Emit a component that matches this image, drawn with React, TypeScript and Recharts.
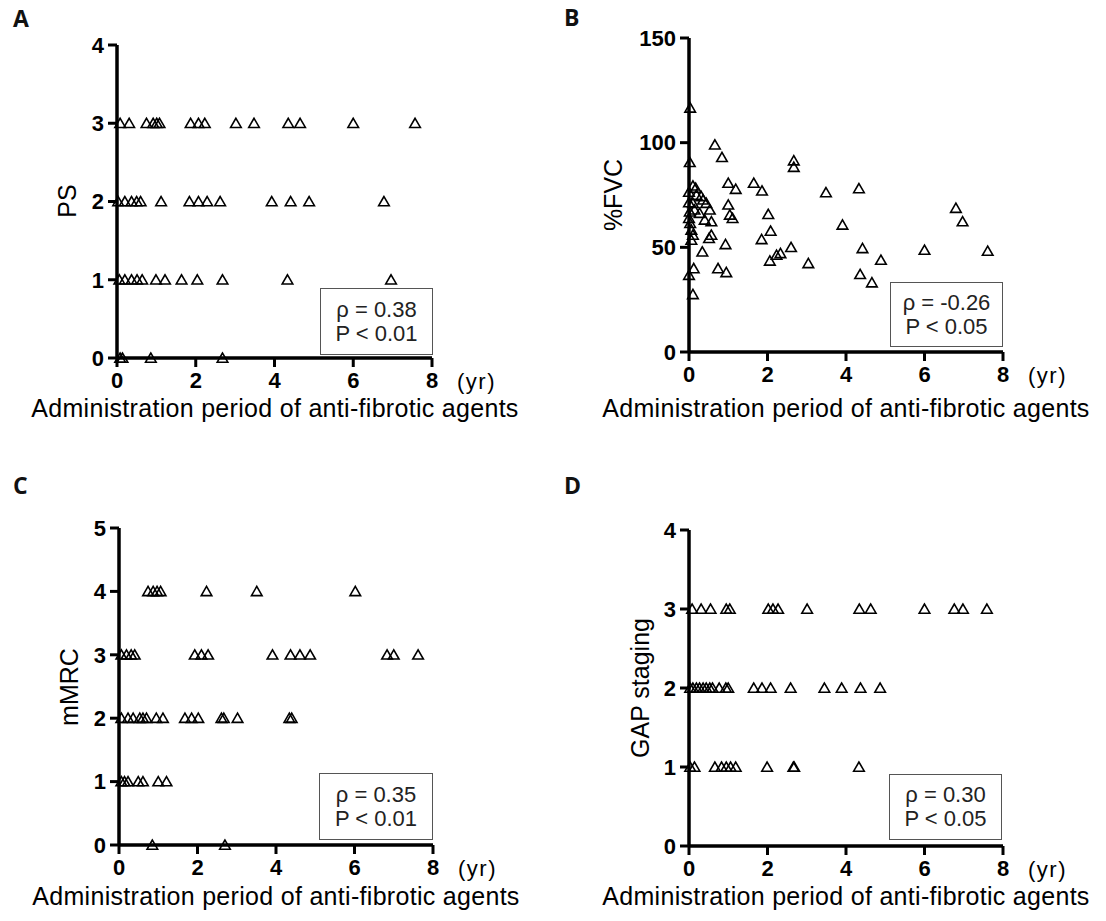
import React from 'react';
import { ScatterChart, Scatter, XAxis, YAxis } from 'recharts';

// ---- Data ----
const xTicks = [0, 2, 4, 6, 8];

// Panel A: PS
const psY3 = [0.08, 0.31, 0.75, 0.92, 1.01, 1.08, 1.87, 2.07, 2.23, 3.02, 3.48, 4.35, 4.65, 6.0, 7.57];
const psY2 = [0.03, 0.2, 0.37, 0.5, 0.6, 1.12, 1.84, 2.07, 2.29, 2.62, 3.93, 4.41, 4.88, 6.78];
const psY1 = [0.06, 0.2, 0.37, 0.51, 0.64, 0.99, 1.22, 1.64, 2.04, 2.68, 4.33, 6.96];
const psY0 = [0.08, 0.14, 0.86, 2.68];
const psTicks = [0, 1, 2, 3, 4];

// Panel B: %FVC
const fvcX = [0.03, 0.02, 0, 0, 0.02, 0, 0.03, 0.06, 0.1, 0, 0.12, 0.1, 0.1, 0.17, 0.19, 0.1, 0.14, 0.06,
  0.31, 0.36, 0.44, 0.53, 0.27, 0.4, 0.57, 0.34, 0.51, 0.57, 0.66, 0.84, 1.0, 1.19, 1.0, 1.04, 1.11, 0.93,
  0.74, 0.95, 1.65, 1.86, 2.02, 2.08, 1.85, 2.06, 2.23, 2.33, 2.6, 2.67, 2.67, 3.04, 3.49, 3.91, 4.33,
  4.36, 4.42, 4.66, 4.89, 6.0, 6.8, 6.97, 7.61];
const fvcY = [116.6, 90.6, 76.4, 71.4, 67, 63.9, 61.5, 58.3, 55.9, 36.7, 39.9, 27.5, 79.4, 78.3, 75, 71, 67.9, 53.5,
  74.3, 72.7, 71.1, 67.9, 66.3, 63.1, 62.3, 47.9, 54.3, 55.9, 99, 93, 80.7, 77.8, 70.3, 65.5, 63.9, 51.4,
  39.9, 38, 80.7, 77, 65.8, 57.8, 53.8, 43.5, 46.3, 47.1, 50, 91.4, 88.3, 42.3, 76.2, 60.7, 78.1,
  37.1, 49.5, 33.1, 43.9, 48.7, 68.7, 62.3, 48.2];
const fvcTicks = [0, 50, 100, 150];

// Panel C: mMRC
const mY4 = [0.74, 0.87, 0.97, 1.06, 2.23, 3.51, 6.02];
const mY3 = [0.06, 0.19, 0.31, 0.4, 1.93, 2.1, 2.27, 3.91, 4.37, 4.61, 4.87, 6.83, 7.0, 7.62];
const mY2 = [0.06, 0.23, 0.36, 0.53, 0.61, 0.7, 0.95, 1.12, 1.68, 1.85, 2.02, 2.61, 2.67, 3.02, 4.34, 4.4];
const mY1 = [0.06, 0.14, 0.23, 0.49, 0.61, 1.0, 1.21];
const mY0 = [0.85, 2.7];
const mTicks = [0, 1, 2, 3, 4, 5];

// Panel D: GAP staging
const gY3 = [0.08, 0.31, 0.55, 0.95, 1.04, 2.02, 2.14, 2.27, 3.01, 4.34, 4.63, 6.0, 6.76, 6.98, 7.59];
const gY2 = [0.03, 0.1, 0.19, 0.27, 0.36, 0.44, 0.53, 0.6, 0.77, 0.94, 1.0, 1.65, 1.86, 2.08, 2.59, 3.45, 3.89, 4.37, 4.87];
const gY1 = [0.03, 0.14, 0.66, 0.83, 0.95, 1.06, 1.19, 1.99, 2.66, 2.68, 4.33];
const gTicks = [0, 1, 2, 3, 4];

const rows = (levels: [number, number[]][]) =>
  levels.flatMap(([y, xs]) => xs.map((x) => ({ x, y })));

const psData = rows([[3, psY3], [2, psY2], [1, psY1], [0, psY0]]);
const fvcData = fvcX.map((x, i) => ({ x, y: fvcY[i] }));
const mData = rows([[4, mY4], [3, mY3], [2, mY2], [1, mY1], [0, mY0]]);
const gData = rows([[3, gY3], [2, gY2], [1, gY1]]);

const FONT = "'Liberation Sans', Arial, sans-serif";

const Tri = (props: any) => {
  const { cx, cy } = props;
  if (cx == null || cy == null) return null;
  return (
    <polygon
      points={`${cx},${cy - 5} ${cx - 5.3},${cy + 4.2} ${cx + 5.3},${cy + 4.2}`}
      fill="none"
      stroke="#000"
      strokeWidth={1.6}
    />
  );
};

type PanelProps = {
  left: number;
  top: number;
  margin: { top: number; right: number; bottom: number; left: number };
  data: { x: number; y: number }[];
  yMax: number;
  yTicks: number[];
};

const Panel = ({ left, top, margin, data, yMax, yTicks }: PanelProps) => (
  <div style={{ position: 'absolute', left, top }}>
    <ScatterChart width={553} height={460} margin={margin}>
      <XAxis
        type="number"
        dataKey="x"
        domain={[0, 8]}
        ticks={xTicks}
        height={60}
        tickSize={9}
        tickMargin={5}
        axisLine={{ stroke: '#000', strokeWidth: 3.5 }}
        tickLine={{ stroke: '#000', strokeWidth: 3 }}
        tick={{ fill: '#000', fontSize: 22, fontWeight: 'bold', fontFamily: FONT }}
      />
      <YAxis
        type="number"
        dataKey="y"
        domain={[0, yMax]}
        ticks={yTicks}
        width={60}
        tickSize={9}
        tickMargin={4}
        axisLine={{ stroke: '#000', strokeWidth: 3.5 }}
        tickLine={{ stroke: '#000', strokeWidth: 3 }}
        tick={{ fill: '#000', fontSize: 22, fontWeight: 'bold', fontFamily: FONT }}
      />
      <Scatter data={data} shape={Tri} isAnimationActive={false} />
    </ScatterChart>
  </div>
);

const Letter = ({ x, y, t }: { x: number; y: number; t: string }) => (
  <div style={{ position: 'absolute', left: x, top: y, fontFamily: "'Open Sans', sans-serif", fontWeight: 700, fontSize: 23, lineHeight: 1, color: '#111' }}>{t}</div>
);

const XTitle = ({ cx, top }: { cx: number; top: number }) => (
  <div style={{ position: 'absolute', left: cx, top, transform: 'translateX(-50%)', whiteSpace: 'nowrap', fontFamily: FONT, fontSize: 25, letterSpacing: 0.3, lineHeight: 1, color: '#000' }}>
    Administration period of anti-fibrotic agents
  </div>
);

const YTitle = ({ cx, cy, t }: { cx: number; cy: number; t: string }) => (
  <div style={{ position: 'absolute', left: cx, top: cy, transform: 'translate(-50%,-50%) rotate(-90deg)', whiteSpace: 'nowrap', fontFamily: FONT, fontSize: 25, lineHeight: 1, color: '#000' }}>{t}</div>
);

const Yr = ({ x, y }: { x: number; y: number }) => (
  <div style={{ position: 'absolute', left: x, top: y, fontFamily: FONT, fontSize: 22, letterSpacing: 1.5, lineHeight: 1, color: '#000' }}>(yr)</div>
);

const StatBox = ({ x, y, w, h, r, p }: { x: number; y: number; w: number; h: number; r: string; p: string }) => (
  <div style={{ position: 'absolute', left: x, top: y, width: w, height: h, boxSizing: 'border-box', border: '1.5px solid #555', background: '#fff', display: 'flex', flexDirection: 'column', justifyContent: 'center', alignItems: 'center', fontFamily: FONT, fontSize: 22, lineHeight: '24px', color: '#222' }}>
    <div>{r}</div>
    <div>{p}</div>
  </div>
);

export default function App() {
  return (
    <div style={{ position: 'absolute', left: 0, top: 0, width: 1106, height: 921, background: '#fff', overflow: 'hidden' }}>
      <Panel left={0} top={0} margin={{ top: 45, right: 121, bottom: 42, left: 57 }} data={psData} yMax={4} yTicks={psTicks} />
      <Panel left={553} top={0} margin={{ top: 38, right: 103, bottom: 48, left: 76 }} data={fvcData} yMax={150} yTicks={fvcTicks} />
      <Panel left={0} top={460} margin={{ top: 68, right: 120, bottom: 15, left: 59 }} data={mData} yMax={5} yTicks={mTicks} />
      <Panel left={553} top={460} margin={{ top: 70, right: 103, bottom: 14, left: 76 }} data={gData} yMax={4} yTicks={gTicks} />

      <Letter x={13} y={7} t="A" />
      <Letter x={564} y={6} t="B" />
      <Letter x={13} y={474} t="C" />
      <Letter x={564} y={474} t="D" />

      <YTitle cx={67} cy={201} t="PS" />
      <YTitle cx={613} cy={195} t="%FVC" />
      <YTitle cx={69} cy={687} t="mMRC" />
      <YTitle cx={640} cy={688} t="GAP staging" />

      <XTitle cx={275} top={396} />
      <XTitle cx={846} top={396} />
      <XTitle cx={276} top={884} />
      <XTitle cx={846} top={884} />

      <Yr x={457} y={371} />
      <Yr x={1028} y={365} />
      <Yr x={458} y={858} />
      <Yr x={1028} y={859} />

      <StatBox x={320} y={288} w={113} h={67} r="ρ = 0.38" p="P < 0.01" />
      <StatBox x={890} y={282} w={113} h={65} r="ρ = -0.26" p="P < 0.05" />
      <StatBox x={319} y={773} w={114} h={67} r="ρ = 0.35" p="P < 0.01" />
      <StatBox x={889} y={774} w={113} h={66} r="ρ = 0.30" p="P < 0.05" />
    </div>
  );
}
